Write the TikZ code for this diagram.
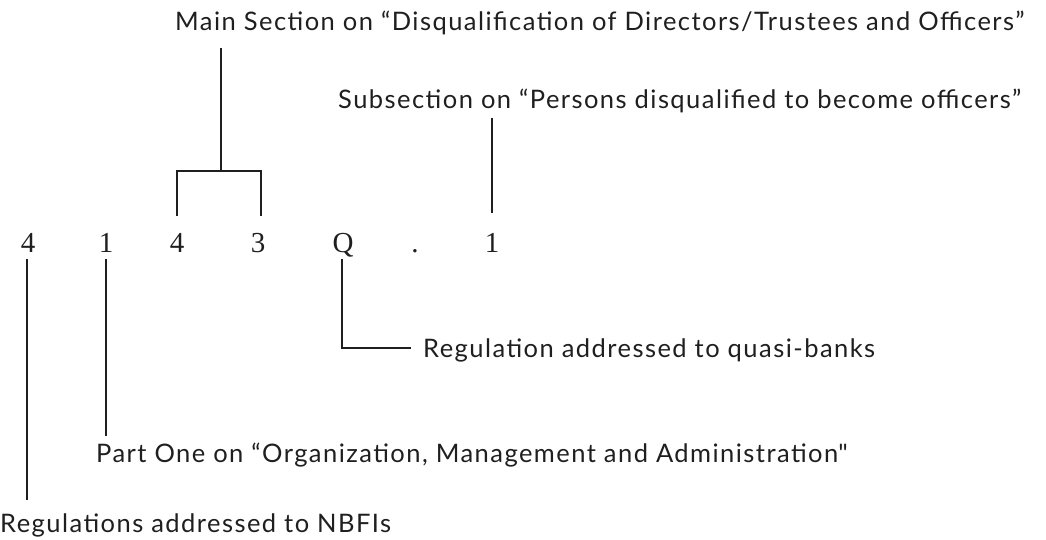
\documentclass[tikz,border=0pt]{standalone}
\usepackage{fontspec}
\setmainfont{Lato}[LetterSpace=5.7]
\newfontfamily\plainq{Lato}[Mapping=]
\newfontfamily\digitfont{Liberation Serif}
\begin{document}
\begin{tikzpicture}[x=1pt,y=-1pt,
  lbl/.style={inner sep=0pt, anchor=base west, font=\fontsize{25.5}{30}\selectfont, text=black!88},
  dig/.style={inner sep=0pt, anchor=base, font=\digitfont\fontsize{29}{33}\selectfont, text=black!88},
  ln/.style={line width=2.2pt, draw=black!88}]
\useasboundingbox (0,0) rectangle (1046,540);
% digits
\node[dig] (d1) at (28,252) {4};
\node[dig] (d2) at (106,252) {1};
\node[dig] (d3) at (177,252) {4};
\node[dig] (d4) at (258,252) {3};
\node[dig] (d5) at (343,252) {Q};
\node[dig] (d6) at (415,252) {.};
\node[dig] (d7) at (492,252) {1};
% labels
\node[lbl] (main) at (175,31) {Main Section on “Disqualification of Directors/Trustees and Officers”};
\node[lbl] (sub) at (338,109) {Subsection on “Persons disqualified to become officers”};
\node[lbl] (quasi) at (423,357) {Regulation addressed to quasi-banks};
\node[lbl] (part) at (96,462) {Part One on “Organization, Management and Administration{\plainq\symbol{34}}};
\node[lbl] (nbfi) at (0,532) {Regulations addressed to NBFIs};
% coordinates
\coordinate (mtop) at (221,48);
\coordinate (mmid) at (221,171);
\coordinate (bl) at (177,171);
\coordinate (br) at (261,171);
\coordinate (blb) at (177,216);
\coordinate (brb) at (261,216);
\coordinate (stop) at (492,118);
\coordinate (sbot) at (492,213);
\coordinate (qtop) at (342,259);
\coordinate (qend) at (411,348);
\coordinate (p1top) at (106,259);
\coordinate (p1bot) at (106,436);
\coordinate (n1top) at (27,259);
\coordinate (n1bot) at (27,500);
% connectors
\draw[ln] (mtop) -- (mmid);
\draw[ln] (blb) -- (bl) -- (br) -- (brb);
\draw[ln] (stop) -- (sbot);
\draw[ln] (qtop) |- (qend);
\draw[ln] (p1top) -- (p1bot);
\draw[ln] (n1top) -- (n1bot);
\end{tikzpicture}
\end{document}
